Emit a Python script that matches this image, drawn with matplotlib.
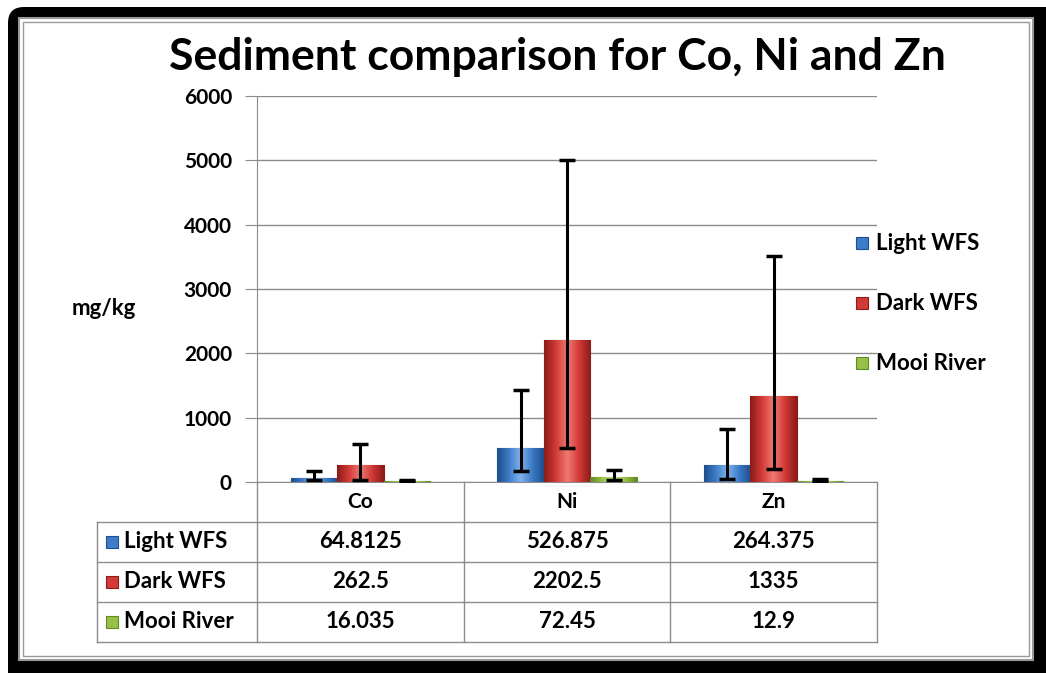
import numpy as np
import matplotlib
matplotlib.use("Agg")
import matplotlib.pyplot as plt
from matplotlib.patches import FancyBboxPatch, Rectangle
from matplotlib.colors import LinearSegmentedColormap

plt.rcParams["font.family"] = ["Lato", "DejaVu Sans"]

# data
categories = ["Co", "Ni", "Zn"]
series = ["Light WFS", "Dark WFS", "Mooi River"]
light_wfs = [64.8125, 526.875, 264.375]
dark_wfs = [262.5, 2202.5, 1335]
mooi_river = [16.035, 72.45, 12.9]
# error bars (lower, upper)
light_err_lo = [40, 361, 211]
light_err_hi = [101, 898, 566]
dark_err_lo = [225, 1673, 1127]
dark_err_hi = [324, 2800, 2178]
mooi_err_lo = [8, 35, 5]
mooi_err_hi = [22, 110, 29]
yticks = [0, 1000, 2000, 3000, 4000, 5000, 6000]

values = [light_wfs, dark_wfs, mooi_river]
errs = [(light_err_lo, light_err_hi), (dark_err_lo, dark_err_hi), (mooi_err_lo, mooi_err_hi)]
colors = ["#3D7CC9", "#D23A36", "#98C045"]
dark = ["#1F4E8C", "#8C1C1A", "#5F8A25"]
light = ["#7FB2EC", "#F07A72", "#C8E28A"]

W, H = 1046, 673
fig = plt.figure(figsize=(W / 100, H / 100), dpi=100)
fig.patch.set_facecolor("white")

# background / frame / table drawn in pixel coordinates
bg = fig.add_axes([0, 0, 1, 1], zorder=0)
bg.set_xlim(0, W)
bg.set_ylim(H, 0)
bg.axis("off")
bg.add_patch(FancyBboxPatch((8, 7), W + 20, H + 20, boxstyle="round,pad=0,rounding_size=16",
                            fc="black", ec="none"))
bg.add_patch(Rectangle((19, 18), 1014, 642, fc="white", ec="#9a9a9a", lw=1.5))
bg.add_patch(Rectangle((23, 22), 1006, 634, fc="none", ec="#9a9a9a", lw=1.0))

ax_l, ax_r, ax_t, ax_b = 257, 877, 96, 482
ax = fig.add_axes([ax_l / W, 1 - ax_b / H, (ax_r - ax_l) / W, (ax_b - ax_t) / H], zorder=2)
ax.patch.set_alpha(0)

x = np.arange(len(categories))
bw = 0.225
for i, (vals, (lo, hi)) in enumerate(zip(values, errs)):
    pos = x + (i - 1) * bw
    bars = ax.bar(pos, vals, width=bw, color=colors[i], edgecolor=dark[i], lw=0.8, zorder=3)
    cmap = LinearSegmentedColormap.from_list("g", [dark[i], colors[i], light[i], colors[i], dark[i]])
    for b in bars:
        x0, w_, h_ = b.get_x(), b.get_width(), b.get_height()
        im = ax.imshow(np.linspace(0, 1, 64)[None, :], cmap=cmap, aspect="auto",
                       extent=(x0, x0 + w_, 0, h_), zorder=3.5, interpolation="bicubic")
        im.set_clip_path(b)
    ax.errorbar(pos, vals, yerr=[lo, hi], fmt="none", ecolor="black", elinewidth=2.2,
                capsize=6, capthick=2.5, zorder=5)

ax.set_xlim(-0.5, len(categories) - 0.5)
ax.set_ylim(0, 6000)
ax.set_yticks(yticks)
ax.set_yticklabels([str(t) for t in yticks], fontsize=15, fontweight="bold")
ax.set_xticks([])
ax.grid(axis="y", color="#8c8c8c", lw=1, zorder=0)
ax.set_axisbelow(True)
for s in ["top", "right"]:
    ax.spines[s].set_visible(False)
ax.spines["left"].set_color("#8c8c8c")
ax.spines["bottom"].set_color("#8c8c8c")
ax.tick_params(axis="y", length=9, color="#8c8c8c", pad=9)

fig.text(557 / W, 1 - 57 / H, "Sediment comparison for Co, Ni and Zn", ha="center", va="center",
         fontsize=32, fontweight="bold")
fig.text(104 / W, 1 - 309 / H, "mg/kg", ha="center", va="center", fontsize=16, fontweight="bold")

# legend
for i, name in enumerate(series):
    yy = 243 + 60 * i
    bg.add_patch(Rectangle((856, yy - 6), 12, 12, fc=colors[i], ec=dark[i], lw=0.8))
    bg.text(876, yy, name, ha="left", va="center", fontsize=16, fontweight="bold")

# data table
lc = "#8c8c8c"
tab_l = 97
col_edges = [ax_l + (ax_r - ax_l) * k / len(categories) for k in range(len(categories) + 1)]
row_edges = [ax_b + 40 * k for k in range(len(series) + 2)]
for xe in col_edges:
    bg.plot([xe, xe], [row_edges[0], row_edges[-1]], color=lc, lw=1)
bg.plot([tab_l, tab_l], [row_edges[1], row_edges[-1]], color=lc, lw=1)
for ye in row_edges[1:]:
    bg.plot([tab_l, ax_r], [ye, ye], color=lc, lw=1)
for j, cat in enumerate(categories):
    cx = (col_edges[j] + col_edges[j + 1]) / 2
    bg.text(cx, (row_edges[0] + row_edges[1]) / 2, cat, ha="center", va="center",
            fontsize=15, fontweight="bold")
for i, name in enumerate(series):
    cy = (row_edges[i + 1] + row_edges[i + 2]) / 2
    bg.add_patch(Rectangle((106, cy - 6), 12, 12, fc=colors[i], ec=dark[i], lw=0.8))
    bg.text(124, cy, name, ha="left", va="center", fontsize=16, fontweight="bold")
    for j, v in enumerate(values[i]):
        cx = (col_edges[j] + col_edges[j + 1]) / 2
        bg.text(cx, cy, f"{v:g}", ha="center", va="center", fontsize=16, fontweight="bold")

fig.savefig("out.png", dpi=100)
